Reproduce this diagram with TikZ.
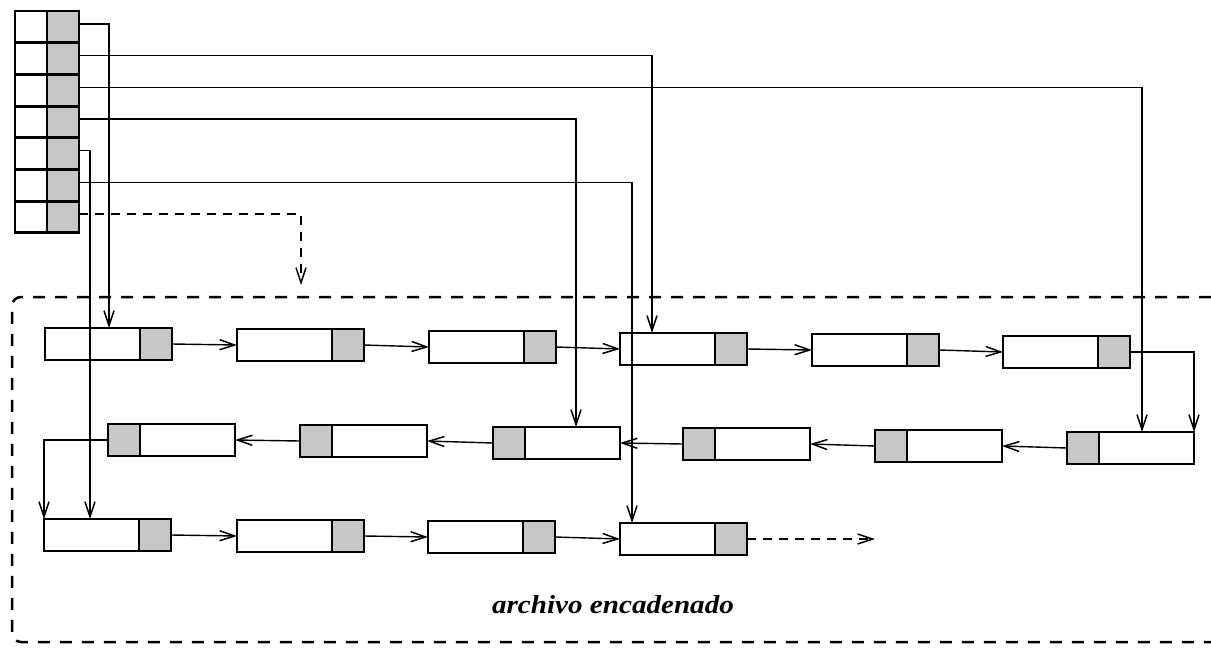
\documentclass[tikz,border=0pt]{standalone}
\usepackage{fontspec}
\setmainfont{Liberation Serif}
\newfontfamily\lblfont[FakeStretch=1.12]{Liberation Serif}
\usetikzlibrary{arrows.meta}
\begin{document}
\begin{tikzpicture}[x=1pt,y=-1pt,
  recR/.style={draw, line width=2.9pt, minimum width=127pt, minimum height=32pt, inner sep=0pt, outer sep=0pt, anchor=north west,
    path picture={\fill[black!22] ([xshift=-32pt]path picture bounding box.north east) rectangle (path picture bounding box.south east);
      \draw[line width=2.9pt] ([xshift=-32pt]path picture bounding box.north east) -- ([xshift=-32pt]path picture bounding box.south east);}},
  recL/.style={draw, line width=2.9pt, minimum width=127pt, minimum height=32pt, inner sep=0pt, outer sep=0pt, anchor=north west,
    path picture={\fill[black!22] (path picture bounding box.north west) rectangle ([xshift=32pt]path picture bounding box.south west);
      \draw[line width=2.9pt] ([xshift=32pt]path picture bounding box.north west) -- ([xshift=32pt]path picture bounding box.south west);}},
  cell/.style={draw, line width=2.9pt, minimum width=32pt, minimum height=31.7pt, inner sep=0pt, outer sep=0pt},
  scell/.style={cell, fill=black!22},
  arr/.style={line width=1.4pt, -{Straight Barb[length=15pt,width=10pt,line width=1.5pt]}},
  darr/.style={arr, dash pattern=on 9pt off 7pt},
  frame/.style={line width=2.5pt, dash pattern=on 12pt off 10pt, rounded corners=9pt},
  lbl/.style={font=\lblfont\fontsize{26}{30}\selectfont\bfseries\itshape, anchor=base, inner sep=0pt}
]
\useasboundingbox (0,0) rectangle (1211,651);

% index table
\foreach \k in {1,...,7}{
  \node[cell]  (l\k) at (31, {11+31.7*(\k-0.5)}) {};
  \node[scell] (i\k) at (63, {11+31.7*(\k-0.5)}) {};
}

% row 1
\node[recR] (r1a) at (45,328) {};
\node[recR] (r1b) at (237,329) {};
\node[recR] (r1c) at (429,331) {};
\node[recR] (r1d) at (620,333) {};
\node[recR] (r1e) at (812,334) {};
\node[recR] (r1f) at (1003,336) {};
% row 2
\node[recL] (r2a) at (1067,432) {};
\node[recL] (r2b) at (875,430) {};
\node[recL] (r2c) at (683,428) {};
\node[recL] (r2d) at (493,427) {};
\node[recL] (r2e) at (300,425) {};
\node[recL] (r2f) at (108,424) {};
% row 3
\node[recR] (r3a) at (44,519) {};
\node[recR] (r3b) at (237,520) {};
\node[recR] (r3c) at (428,521) {};
\node[recR] (r3d) at (620,523) {};

\coordinate (d7) at (301,285);
\coordinate (e3) at (875,539);

% chain
\draw[arr] (r1a.east) -- (r1b.west);
\draw[arr] (r1b.east) -- (r1c.west);
\draw[arr] (r1c.east) -- (r1d.west);
\draw[arr] (r1d.east) -- (r1e.west);
\draw[arr] (r1e.east) -- (r1f.west);
\draw[arr] (r1f.east) -| (r2a.north east);
\draw[arr] (r2a.west) -- (r2b.east);
\draw[arr] (r2b.west) -- (r2c.east);
\draw[arr] (r2c.west) -- (r2d.east);
\draw[arr] (r2d.west) -- (r2e.east);
\draw[arr] (r2e.west) -- (r2f.east);
\draw[arr] (r2f.west) -| (r3a.north west);
\draw[arr] (r3a.east) -- (r3b.west);
\draw[arr] (r3b.east) -- (r3c.west);
\draw[arr] (r3c.east) -- (r3d.west);
\draw[darr] (r3d.east) -- (e3);

% index pointers
\draw[arr] ([yshift=3pt]i1.east) -| ([xshift=64pt]r1a.north west);
\draw[arr] ([yshift=3pt]i2.east) -| ([xshift=32pt]r1d.north west);
\draw[arr] ([yshift=3pt]i3.east) -| ([xshift=75pt]r2a.north west);
\draw[arr] ([yshift=3pt]i4.east) -| ([xshift=83pt]r2d.north west);
\draw[arr] ([yshift=3pt]i5.east) -| ([xshift=46pt]r3a.north west);
\draw[arr] ([yshift=3pt]i6.east) -| ([xshift=12pt]r3d.north west);
\draw[darr] ([yshift=3pt]i7.east) -| (d7);

% frame
\draw[frame] (1211,297) -- (12,297) -- (12,642) -- (1211,642);

\node[lbl] (label) at (613,613) {archivo encadenado};
\end{tikzpicture}
\end{document}
